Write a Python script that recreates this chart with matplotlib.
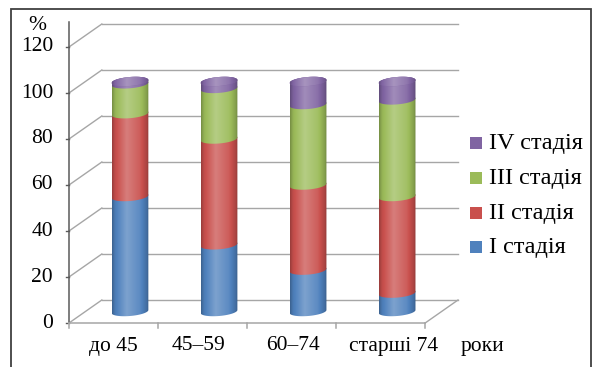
import numpy as np
import matplotlib
matplotlib.use("Agg")
import matplotlib.pyplot as plt
from matplotlib.patches import Polygon, Rectangle
from matplotlib.colors import to_rgb

# data
groups = ["до 45", "45–59", "60–74", "старші 74"]
stage_names = ["I стадія", "II стадія", "III стадія", "IV стадія"]
stage1 = [50, 29, 18, 8]
stage2 = [36, 46, 37, 42]
stage3 = [13, 22, 35, 42]
stage4 = [1, 3, 10, 8]
stage_colors = ["#4f81bd", "#c9504d", "#9bbb59", "#8064a2"]
yticks = [0, 20, 40, 60, 80, 100, 120]

W, H = 597, 367
PXX, PXY = 89.5, 2.3            # pixels per category / per percent
DX, DY = 33 / PXX, 10           # depth of the fake 3d box
A_PX, B_PX, TILT = 18.5, 4.5, 0.08
GRID, AXC = "#a6a6a6", "#5a5a5a"

plt.rcParams["font.family"] = ["Liberation Serif", "DejaVu Serif"]
fig = plt.figure(figsize=(W / 100, H / 100), dpi=100)
ax = fig.add_axes([69 / W, (H - 323) / H, (458 - 69) / W, 130 * PXY / H])
ax.axis("off")

# back wall + side diagonals
for v in yticks:
    ax.plot([-0.5 + DX, 3.5 + DX], [v + DY, v + DY], color=GRID, lw=1, clip_on=False)
    ax.plot([-0.5, -0.5 + DX], [v, v + DY], color=GRID, lw=1, clip_on=False)
    ax.plot([-0.5 - 3 / PXX, -0.5], [v, v], color=AXC, lw=1, clip_on=False)
    ax.text(-0.5 - 16 / PXX, v, str(v), ha="right", va="center", fontsize=15.5)
ax.plot([3.5, 3.5 + DX], [0, DY], color=GRID, lw=1, clip_on=False)
ax.plot([-0.5, -0.5], [0, 131], color=AXC, lw=1.1, clip_on=False)
ax.plot([-0.5, 3.5], [0, 0], color=GRID, lw=1.1, clip_on=False)
for e in np.arange(-0.5, 4.0, 1.0):
    ax.plot([e, e], [0, -5 / PXY], color=GRID, lw=1.1, clip_on=False)
ax.text(-0.5 + (37 - 69) / PXX, (323 - 25) / PXY, "%", ha="center", va="center", fontsize=15.5)

# cylinders
tt = np.linspace(0, 1, 200)
shade = np.interp(tt, [0, .08, .4, .75, .95, 1], [-.25, -.05, .26, .08, -.16, -.3])


def grad(color, lift=0.0):
    c = np.array(to_rgb(color))
    s = shade[:, None] + lift
    img = np.where(s > 0, c + (1 - c) * s, c * (1 + s))
    return np.clip(img, 0, 1)[None, :, :]


def ell(cx, cy, t):
    ex = A_PX * np.cos(t)
    ey = B_PX * np.sin(t) + TILT * ex
    return cx + ex / PXX, cy + ey / PXY


t_lo = np.linspace(np.pi, 2 * np.pi, 60)
t_hi = np.linspace(0, np.pi, 60)
t_all = np.linspace(0, 2 * np.pi, 120)
stages = [stage1, stage2, stage3, stage4]
for i in range(len(groups)):
    cx = i + DX / 2
    base = DY / 2
    x0, x1 = cx - A_PX / PXX, cx + A_PX / PXX
    for s, vals in enumerate(stages):
        y0 = base + sum(st[i] for st in stages[:s])
        y1 = y0 + vals[i]
        xa, ya = ell(cx, y0, t_lo)
        xb, yb = ell(cx, y1, t_hi)
        poly = Polygon(np.column_stack([np.r_[xa, xb], np.r_[ya, yb]]), closed=True,
                       transform=ax.transData)
        im = ax.imshow(grad(stage_colors[s]), extent=[x0, x1, y0 - 3, y1 + 3],
                       aspect="auto", zorder=3 + s, interpolation="bilinear")
        im.set_clip_path(poly)
    top = base + sum(st[i] for st in stages)
    xt, yt = ell(cx, top, t_all)
    ax.fill(xt, yt, color=stage_colors[3], zorder=8, lw=0)
    poly = Polygon(np.column_stack([xt, yt]), closed=True, transform=ax.transData)
    im = ax.imshow(grad(stage_colors[3], 0.05), extent=[x0, x1, top - 3, top + 3],
                   aspect="auto", zorder=9, interpolation="bilinear")
    im.set_clip_path(poly)

ax.set_xlim(-0.5, 3.5 + DX)
ax.set_ylim(0, 130)

# category labels
label_shift = [0, -0.05, 0.02, 0.14]
for i, g in enumerate(groups):
    ax.text(i + label_shift[i], -(346 - 323) / PXY, g, ha="center", va="center", fontsize=15.5)
ax.text(-0.5 + (484.5 - 69) / PXX, -(346 - 323) / PXY, "роки", ha="center", va="center",
        fontsize=15.5)

# legend, top row is stage IV
rows = [143, 178, 213, 247]
for r, s in zip(rows, [3, 2, 1, 0]):
    fig.add_artist(Rectangle((470 / W, 1 - (r + 5.5) / H), 12 / W, 12 / H,
                             transform=fig.transFigure, color=stage_colors[s], lw=0))
    fig.text(489 / W, 1 - r / H, stage_names[s], ha="left", va="center", fontsize=17.5)

# frame
fig.add_artist(Rectangle((11 / W, -5 / H), 580 / W, (H - 9 + 5) / H, transform=fig.transFigure,
                         fill=False, edgecolor="#404040", lw=1.3))

fig.savefig("out.png", dpi=100)
